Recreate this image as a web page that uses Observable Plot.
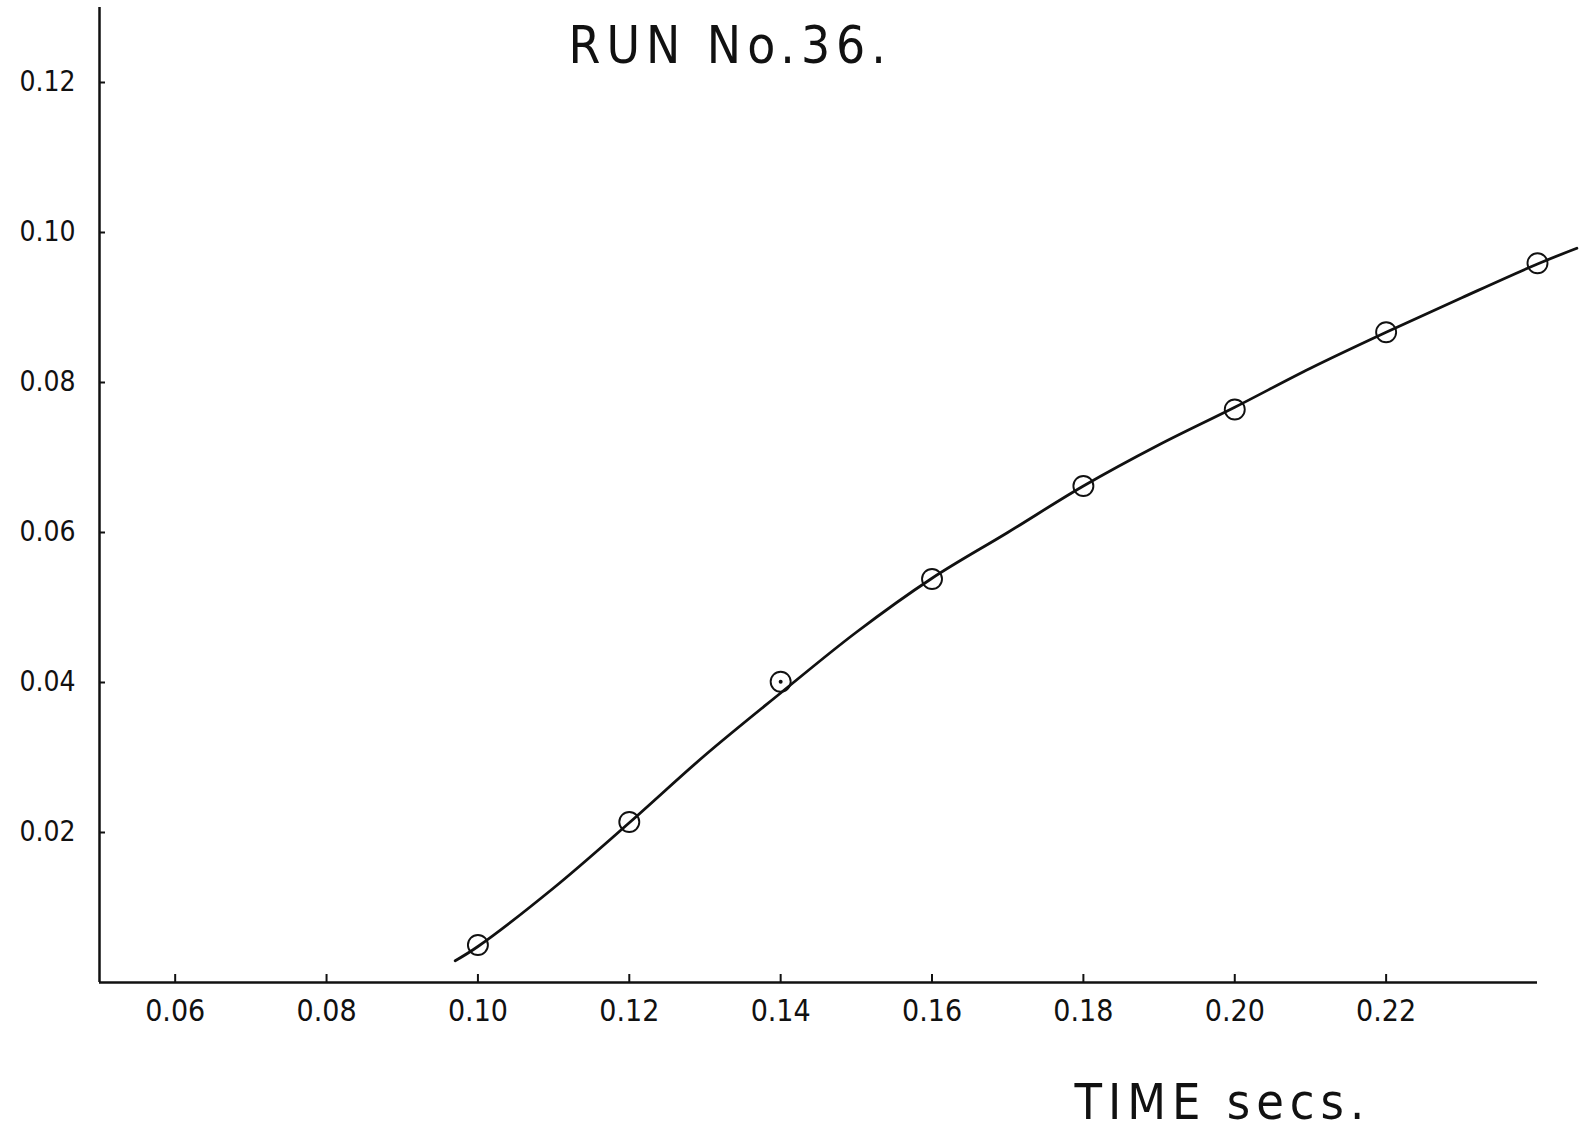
<!DOCTYPE html>
<html>
<head>
<meta charset="utf-8">
<script src="https://cdn.jsdelivr.net/npm/d3@7"></script>
<script src="https://cdn.jsdelivr.net/npm/@observablehq/plot@0.6"></script>
<style>
  html, body { margin: 0; padding: 0; background: #fff; }
  #chart svg { display: block; }
</style>
</head>
<body>
<div id="chart"></div>
<script>
// Run 36: measured values against time (s), with a hand-faired curve.
const runTitle = "RUN No.36.";
const timeLabel = "TIME secs.";

// measured points
const pointTime  = [0.10, 0.12, 0.14, 0.16, 0.18, 0.20, 0.22, 0.24];
const pointValue = [0.0050, 0.0214, 0.0401, 0.0538, 0.0662, 0.0764, 0.0867, 0.0959];
// point drawn with a centre dot
const centreDotTime = [0.14];

// faired curve through the points
const curveTime  = [0.097, 0.100, 0.110, 0.120, 0.130, 0.140, 0.150, 0.160, 0.170, 0.180, 0.190, 0.200, 0.210, 0.220, 0.230, 0.240, 0.2452];
const curveValue = [0.0029, 0.0048, 0.0126, 0.0213, 0.0303, 0.0386, 0.0467, 0.0539, 0.0600, 0.0662, 0.0717, 0.0767, 0.0819, 0.0867, 0.0913, 0.0958, 0.0979];

// axis ticks
const xTicks = [0.06, 0.08, 0.10, 0.12, 0.14, 0.16, 0.18, 0.20, 0.22];
const yTicks = [0.02, 0.04, 0.06, 0.08, 0.10, 0.12];

const points = pointTime.map((t, i) => ({time: t, value: pointValue[i]}));
const dotted = points.filter(d => centreDotTime.includes(d.time));
const curve = curveTime.map((t, i) => ({time: t, value: curveValue[i]}));

const ink = "#111";
const labelFont = "'DejaVu Sans Condensed', 'DejaVu Sans', sans-serif";

const W = 1596, H = 1131;
const margin = {left: 99, right: 59, top: 7, bottom: 149};
const frameW = W - margin.left - margin.right;
const frameH = H - margin.top - margin.bottom;
const xTickLen = 8, yTickLen = 6;

const chart = Plot.plot({
  width: W,
  height: H,
  marginLeft: margin.left,
  marginRight: margin.right,
  marginTop: margin.top,
  marginBottom: margin.bottom,
  style: {background: "#fff", color: ink, fontFamily: labelFont, overflow: "visible"},
  x: {domain: [0.05, 0.24]},
  y: {domain: [0, 0.13]},
  marks: [
    // axis lines
    Plot.ruleY([0], {stroke: ink, strokeWidth: 2.5}),
    Plot.ruleX([0.05], {stroke: ink, strokeWidth: 2.5}),
    // short ticks standing inside the frame
    Plot.tickX(xTicks, {x: d => d, insetTop: frameH - xTickLen, stroke: ink, strokeWidth: 2}),
    Plot.tickY(yTicks, {y: d => d, insetRight: frameW - yTickLen, stroke: ink, strokeWidth: 2}),
    // tick labels
    Plot.axisX({ticks: xTicks, tickSize: 0, tickPadding: 17, tickFormat: d3.format(".2f"), fontSize: 30, fill: ink, label: null}),
    Plot.axisY({ticks: yTicks, tickSize: 0, tickPadding: 24, tickFormat: d3.format(".2f"), fontSize: 28, fill: ink, label: null}),
    // curve and observations
    Plot.line(curve, {x: "time", y: "value", curve: "catmull-rom", stroke: ink, strokeWidth: 2.8}),
    Plot.dot(points, {x: "time", y: "value", r: 10, stroke: ink, strokeWidth: 1.9, fill: "none"}),
    Plot.dot(dotted, {x: "time", y: "value", r: 2, fill: ink, stroke: null}),
    // title and axis caption
    Plot.text([runTitle], {
      text: d => d, frameAnchor: "top-left", dx: 469, dy: 55,
      textAnchor: "start", lineAnchor: "bottom",
      fontSize: 51, fill: ink, fontFamily: labelFont
    }),
    Plot.text([timeLabel], {
      text: d => d, frameAnchor: "bottom-left", dx: 975, dy: 136,
      textAnchor: "start", lineAnchor: "bottom",
      fontSize: 50, fill: ink, fontFamily: labelFont
    })
  ]
});

// open lettering: wide spacing on the title and the time caption
const spacing = new Map([[runTitle, "6px"], [timeLabel, "6px"]]);
d3.select(chart).selectAll("text")
  .filter(function () { return spacing.has(this.textContent); })
  .attr("letter-spacing", function () { return spacing.get(this.textContent); });

document.getElementById("chart").appendChild(chart);
</script>
</body>
</html>
